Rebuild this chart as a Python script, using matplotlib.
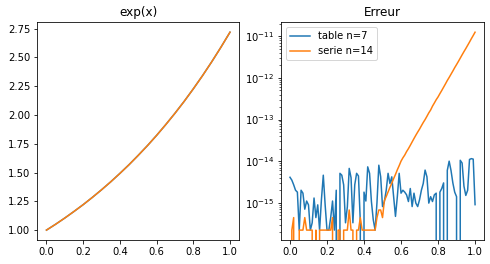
import numpy as np
import matplotlib
matplotlib.use('Agg')
import matplotlib.pyplot as plt

# left panel: exp(x) read at 0.05 steps (both methods overlap)
x_exp = [0.0, 0.05, 0.1, 0.15, 0.2, 0.25, 0.3, 0.35, 0.4, 0.45, 0.5,
         0.55, 0.6, 0.65, 0.7, 0.75, 0.8, 0.85, 0.9, 0.95, 1.0]
exp_table = [1.000, 1.051, 1.105, 1.162, 1.221, 1.284, 1.350, 1.419, 1.492, 1.568, 1.649,
             1.733, 1.822, 1.916, 2.014, 2.117, 2.226, 2.340, 2.460, 2.586, 2.718]
exp_serie = [1.000, 1.051, 1.105, 1.162, 1.221, 1.284, 1.350, 1.419, 1.492, 1.568, 1.649,
             1.733, 1.822, 1.916, 2.014, 2.117, 2.226, 2.340, 2.460, 2.586, 2.718]

# right panel: absolute error, 101 points on [0, 1]
x_err = np.linspace(0, 1, 101)

# table n=7, in units of 1e-16 (0 = exact, falls off the log axis)
table_err_e16 = [
    41, 35, 27, 20, 18, 2.2, 20, 17, 7, 11,
    8.9, 2.2, 3.3, 13, 4.4, 8.9, 2.2, 12, 46, 8.9,
    2.2, 2.2, 4.4, 11, 2.2, 20, 0, 51, 46, 27,
    3.3, 8, 67, 40, 3.3, 27, 51, 44, 3.5, 0,
    18, 11, 73, 51, 10.7, 3.9, 2.2, 10, 80, 42,
    8.1, 10.7, 20, 51, 29, 42, 14, 4.7, 14, 51,
    17, 20, 18, 15.5, 10.7, 22, 8.1, 17, 9.8, 8.1,
    11.8, 20, 29, 61, 42, 9.8, 14, 10.7, 15.5, 17,
    0, 18, 22, 30, 0, 60, 100, 60, 30, 18,
    14, 0, 105, 90, 25, 15, 20, 110, 115, 112,
    9,
]

# serie n=14, in units of 1e-16
serie_err_e16 = [
    0, 2.2, 4.4, 0, 0, 2.2, 2.2, 2.2, 4.4, 2.2,
    2.2, 2.2, 2.2, 0, 2.2, 0, 2.2, 2.2, 2.2, 2.2,
    2.2, 2.2, 2.2, 4.4, 0, 0, 2.2, 2.2, 0, 2.2,
    2.2, 2.2, 6.7, 2.2, 2.2, 0, 2.2, 2.2, 4.4, 2.2,
    2.2, 2.2, 2.2, 2.2, 2.2, 2.2, 2.2, 4.4, 6.7, 6.7,
    4.4, 11.2, 14.1, 18.2, 23.4, 29.5, 38, 48, 62, 78,
    100, 120, 140, 170, 200, 240, 290, 350, 420, 500,
    590, 710, 850, 1000, 1200, 1450, 1700, 2100, 2500, 3000,
    3500, 4200, 5000, 6000, 7200, 8700, 10300, 12300, 14700, 17700,
    21000, 25000, 30000, 36000, 43000, 51000, 61000, 73000, 88000, 105000,
    126000,
]

table_err = np.array(table_err_e16) * 1e-16
serie_err = np.array(serie_err_e16) * 1e-16

fig = plt.figure(figsize=(490 / 72, 264 / 72), dpi=72)
ax1 = fig.add_axes([0.0761, 0.0909, 0.412, 0.8246])
ax2 = fig.add_axes([0.5729, 0.0909, 0.4155, 0.8246])

ax1.plot(x_exp, exp_table)
ax1.plot(x_exp, exp_serie)
ax1.set_title("exp(x)")

ax2.plot(x_err, table_err, label="table n=7")
ax2.plot(x_err, serie_err, label="serie n=14")
ax2.set_yscale('log')
ax2.set_title("Erreur")
ax2.legend(loc='upper left')

fig.savefig('out.png', dpi=72)
